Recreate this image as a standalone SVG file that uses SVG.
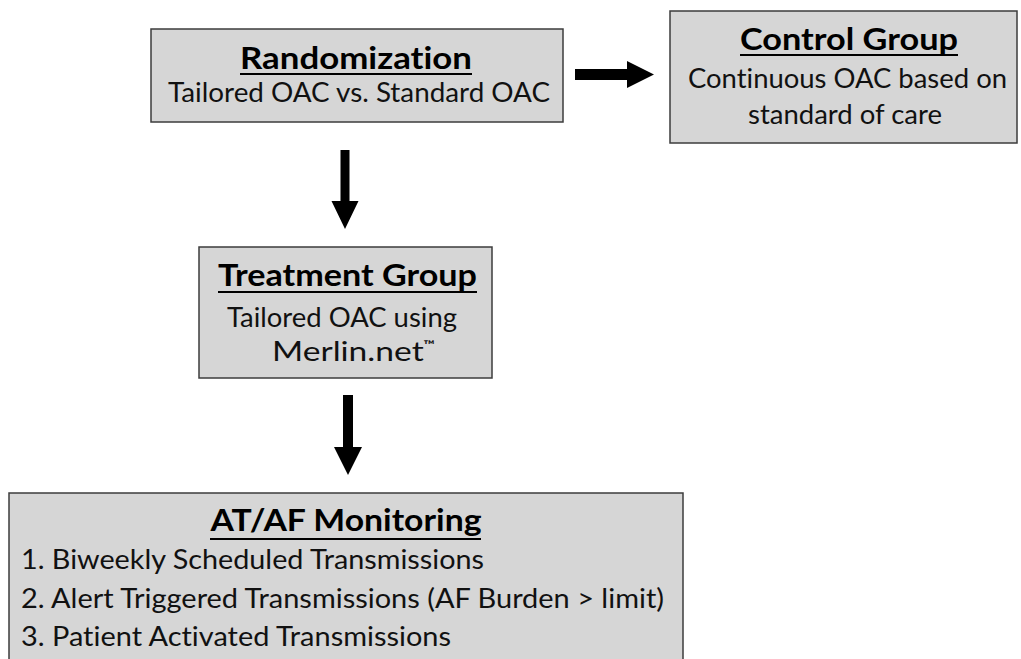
<svg xmlns="http://www.w3.org/2000/svg" width="1021" height="659" viewBox="0 0 1021 659">
<style>
text{font-variant-ligatures:none;font-family:Lato,"Open Sans","Liberation Sans",sans-serif}
.box{fill:#d6d6d6;stroke:#3c3c3c;stroke-width:1.5}
.t{font-weight:700;font-size:31px;fill:#000;text-anchor:middle}
.b{font-weight:400;font-size:27px;fill:#111;text-anchor:middle}
.bl{font-weight:400;font-size:27px;fill:#111}
.u{stroke:#000;stroke-width:2}
.arr{fill:#000}
</style>
<rect width="1021" height="659" fill="#fff"/>
<g id="randomization">
<rect class="box" x="151" y="29" width="412" height="93"/>
<text class="t" x="356" y="69" textLength="232" lengthAdjust="spacingAndGlyphs">Randomization</text>
<line class="u" x1="240" y1="74" x2="472" y2="74"/>
<text class="b" x="359" y="102" textLength="382" lengthAdjust="spacingAndGlyphs">Tailored OAC vs. Standard OAC</text>
</g>
<g id="control">
<rect class="box" x="670" y="11" width="347" height="132"/>
<text class="t" x="849" y="50" textLength="218" lengthAdjust="spacingAndGlyphs">Control Group</text>
<line class="u" x1="740" y1="55" x2="958" y2="55"/>
<text class="b" x="847.5" y="88" textLength="319" lengthAdjust="spacingAndGlyphs">Continuous OAC based on</text>
<text class="b" x="845" y="124" textLength="194" lengthAdjust="spacingAndGlyphs">standard of care</text>
</g>
<g id="treatment">
<rect class="box" x="199" y="247" width="293" height="131"/>
<text class="t" x="347.5" y="286" textLength="259" lengthAdjust="spacingAndGlyphs">Treatment Group</text>
<line class="u" x1="218" y1="292" x2="477" y2="292"/>
<text class="b" x="342" y="327" textLength="230" lengthAdjust="spacingAndGlyphs">Tailored OAC using</text>
<text class="bl" x="272" y="361" textLength="163" lengthAdjust="spacingAndGlyphs">Merlin.net<tspan font-size="12" font-weight="700" dy="-12">™</tspan></text>
</g>
<g id="monitoring">
<rect class="box" x="9" y="493" width="674" height="200"/>
<text class="t" x="346" y="531" textLength="271" lengthAdjust="spacingAndGlyphs">AT/AF Monitoring</text>
<line class="u" x1="210" y1="539" x2="481" y2="539"/>
<text class="bl" x="21" y="569" textLength="463" lengthAdjust="spacingAndGlyphs">1. Biweekly Scheduled Transmissions</text>
<text class="bl" x="21" y="608" textLength="643" lengthAdjust="spacingAndGlyphs">2. Alert Triggered Transmissions (AF Burden &gt; limit)</text>
<text class="bl" x="21" y="646" textLength="430" lengthAdjust="spacingAndGlyphs">3. Patient Activated Transmissions</text>
</g>
<g id="connectors">
<polygon class="arr" points="575,69 627,69 627,61 654,74.5 627,88 627,80 575,80"/>
<polygon class="arr" points="340.5,150 349.5,150 349.5,201 358.5,201 345,229 331.5,201 340.5,201"/>
<polygon class="arr" points="343,395 353,395 353,447 362,447 348,475 334,447 343,447"/>
</g>
</svg>
